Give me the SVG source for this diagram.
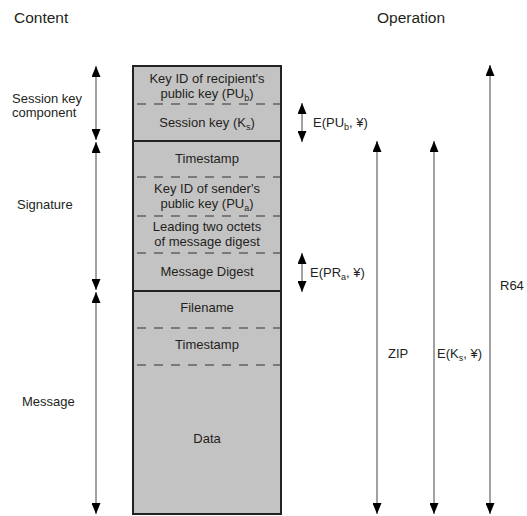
<svg xmlns="http://www.w3.org/2000/svg" width="527" height="516" viewBox="0 0 527 516">
<style>
text{font-family:"Liberation Sans",Arial,sans-serif;font-size:13px;fill:#231f20}
.h{font-size:15.5px}
.c{text-anchor:middle}
.sub{font-size:9px}
.conn line{stroke:#8a8a8a;stroke-width:1.6;marker-start:url(#ah);marker-end:url(#ah)}
.sep{stroke:#333;stroke-width:1.2;stroke-dasharray:9 8}
.solid{stroke:#222;stroke-width:2}
</style>
<defs>
<marker id="ah" viewBox="0 0 11 9" refX="11" refY="4.5" markerWidth="11" markerHeight="9" markerUnits="userSpaceOnUse" orient="auto-start-reverse">
<path d="M0,0 L11,4.5 L0,9 z" fill="#000"/>
</marker>
</defs>
<rect width="527" height="516" fill="#fff"/>
<text class="h" x="14" y="23">Content</text>
<text class="h" x="377" y="23">Operation</text>

<g id="packet">
<rect x="133" y="66" width="148" height="448" fill="#c3c3c3" stroke="#222" stroke-width="2"/>
<line class="sep" x1="137" y1="104" x2="281" y2="104"/>
<line class="solid" x1="133" y1="141" x2="281" y2="141"/>
<line class="sep" x1="137" y1="177" x2="281" y2="177"/>
<line class="sep" x1="137" y1="216" x2="281" y2="216"/>
<line class="sep" x1="137" y1="253" x2="281" y2="253"/>
<line class="solid" x1="133" y1="291" x2="281" y2="291"/>
<line class="sep" x1="137" y1="328" x2="281" y2="328"/>
<line class="sep" x1="137" y1="365" x2="281" y2="365"/>
</g>
<g id="f-keyid-recipient"><text class="c" x="207" y="83">Key ID of recipient's</text>
<text class="c" x="207" y="98">public key (PU<tspan class="sub" dy="3">b</tspan><tspan dy="-3">)</tspan></text></g>
<g id="f-sessionkey"><text class="c" x="207" y="127">Session key (K<tspan class="sub" dy="3">s</tspan><tspan dy="-3">)</tspan></text></g>
<g id="f-timestamp1"><text class="c" x="207" y="163">Timestamp</text></g>
<g id="f-keyid-sender"><text class="c" x="207" y="193">Key ID of sender's</text>
<text class="c" x="207" y="208">public key (PU<tspan class="sub" dy="3">a</tspan><tspan dy="-3">)</tspan></text></g>
<g id="f-leading"><text class="c" x="207" y="231">Leading two octets</text>
<text class="c" x="207" y="246">of message digest</text></g>
<g id="f-digest"><text class="c" x="207" y="276">Message Digest</text></g>
<g id="f-filename"><text class="c" x="207" y="312">Filename</text></g>
<g id="f-timestamp2"><text class="c" x="207" y="349">Timestamp</text></g>
<g id="f-data"><text class="c" x="207" y="443">Data</text></g>

<g id="l-session"><text x="12" y="103">Session key</text><text x="12" y="117">component</text></g>
<g id="l-signature"><text x="17" y="209">Signature</text></g>
<g id="l-message"><text x="22" y="406">Message</text></g>

<g id="o-epub"><text x="313" y="127">E(PU<tspan class="sub" dy="3">b</tspan><tspan dy="-3">, ¥)</tspan></text></g>
<g id="o-epra"><text x="310" y="277">E(PR<tspan class="sub" dy="3">a</tspan><tspan dy="-3">, ¥)</tspan></text></g>
<g id="o-zip"><text x="388" y="358">ZIP</text></g>
<g id="o-eks"><text x="437" y="358">E(K<tspan class="sub" dy="3">s</tspan><tspan dy="-3">, ¥)</tspan></text></g>
<g id="o-r64"><text x="500" y="290">R64</text></g>

<g class="conn" id="connectors">
<line x1="96" y1="66" x2="96" y2="140"/>
<line x1="96" y1="142" x2="96" y2="290"/>
<line x1="96" y1="292" x2="96" y2="514"/>
<line x1="302" y1="103" x2="302" y2="142"/>
<line x1="302" y1="253" x2="302" y2="292"/>
<line x1="377" y1="141" x2="377" y2="514"/>
<line x1="434" y1="141" x2="434" y2="514"/>
<line x1="490" y1="65" x2="490" y2="514"/>
</g>
</svg>
